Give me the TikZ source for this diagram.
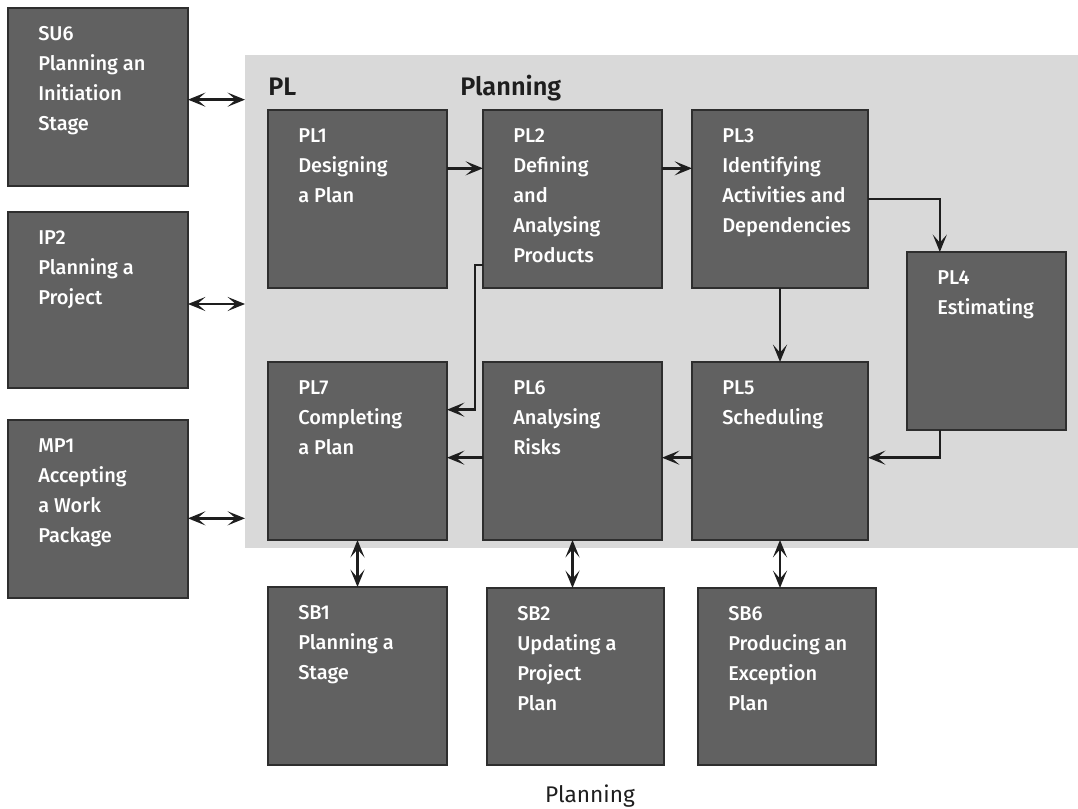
\documentclass[tikz,border=0pt]{standalone}
\usepackage{fontspec}
\setmainfont{Fira Sans}
\newfontfamily\boxfont{Fira Sans}[UprightFont=* Medium, BoldFont=* SemiBold]
\usetikzlibrary{arrows.meta,fit,calc}
\definecolor{boxfill}{HTML}{616161}
\definecolor{boxline}{HTML}{2E2E2E}
\definecolor{areafill}{HTML}{D9D9D9}
\definecolor{ink}{HTML}{1E1E1E}
\tikzset{
  procbox/.style={draw=boxline, line width=1.3pt, fill=boxfill, inner sep=0pt, outer sep=0pt},
  area/.style={fill=areafill, draw=none, inner sep=0pt, outer sep=0pt},
  boxtext/.style={anchor=north west, align=left, text=white, inner sep=0pt,
    font=\boxfont\fontsize{15}{22.5}\selectfont},
  head/.style={anchor=base west, inner sep=0pt, text=ink, font=\boxfont\fontsize{19}{20}\selectfont\bfseries},
  caption/.style={anchor=base, inner sep=0pt, text=ink, font=\fontsize{17}{20}\selectfont},
  flow/.style={arrows={-Stealth[length=13pt,width=10.5pt,inset=6pt]}, line width=2pt, draw=ink},
  both/.style={arrows={Stealth[length=13pt,width=10.5pt,inset=6pt]-Stealth[length=13pt,width=10.5pt,inset=6pt]},
    line width=2pt, draw=ink},
}
% \pbox{name}{left}{top}{right}{bottom}{text}
\newcommand\pbox[6]{%
  \node[procbox, fit={(#2,#3) (#4,#5)}] (#1) {};
  \node[boxtext] (#1-t) at ([shift={(30,18)}]#2,#3) {#6};
}
\begin{document}
\begin{tikzpicture}[x=0.75pt,y=-0.75pt]
\useasboundingbox (0,0) rectangle (1078,809);

% planning area
\node[area, fit={(245,55) (1078,548)}] (pl) {};
\node[head] (plcode) at (268,96) {PL};
\node[head] (pltitle) at (460,96) {Planning};

% neighbouring processes
\pbox{su6}{8}{8}{188}{186}{SU6\\Planning an\\Initiation\\Stage}
\pbox{ip2}{8}{212}{188}{388}{IP2\\Planning a\\Project}
\pbox{mp1}{8}{420}{188}{598}{MP1\\Accepting\\a Work\\Package}

% planning sub-processes
\pbox{pl1}{268}{110}{447}{288}{PL1\\Designing\\a Plan}
\pbox{pl2}{483}{110}{662}{288}{PL2\\Defining\\and\\Analysing\\Products}
\pbox{pl3}{692}{110}{868}{288}{PL3\\Identifying\\Activities and\\Dependencies}
\pbox{pl4}{907}{252}{1066}{430}{PL4\\Estimating}
\pbox{pl7}{268}{362}{447}{540}{PL7\\Completing\\a Plan}
\pbox{pl6}{483}{362}{662}{540}{PL6\\Analysing\\Risks}
\pbox{pl5}{692}{362}{868}{540}{PL5\\Scheduling}

% stage-boundary processes
\pbox{sb1}{268}{587}{447}{765}{SB1\\Planning a\\Stage}
\pbox{sb2}{487}{588}{664}{765}{SB2\\Updating a\\Project\\Plan}
\pbox{sb6}{698}{588}{876}{765}{SB6\\Producing an\\Exception\\Plan}

\node[caption] (cap) at (590,802) {Planning};

% links to the planning area
\draw[both] ([yshift=-2pt]su6.east) -- ([yshift=-2pt]su6.east -| pl.west);
\draw[both] ([yshift=-3pt]ip2.east) -- ([yshift=-3pt]ip2.east -| pl.west);
\draw[both] ([yshift=-7pt]mp1.east) -- ([yshift=-7pt]mp1.east -| pl.west);

% flow between sub-processes
\draw[flow] ([yshift=23pt]pl1.east) -- ([yshift=23pt]pl2.west);
\draw[flow] ([yshift=23pt]pl2.east) -- ([yshift=23pt]pl3.west);
\draw[flow] (pl3.east) -| ([xshift=-35pt]pl4.north);
\draw[flow] (pl3.south) -- (pl3.south |- pl5.north);
\draw[flow] ([xshift=-35pt]pl4.south) |- ([yshift=-5pt]pl5.east);
\draw[flow] ([yshift=-5pt]pl5.west) -- ([yshift=-5pt]pl6.east);
\draw[flow] ([yshift=-5pt]pl6.west) -- ([yshift=-5pt]pl7.east);
\draw[flow] ([yshift=-49.5pt]pl2.west) -- ++(-8,0) |- ([yshift=31pt]pl7.east);

% links to stage-boundary processes
\draw[both] (pl7.south) -- (pl7.south |- sb1.north);
\draw[both] (pl6.south) -- (pl6.south |- sb2.north);
\draw[both] (pl5.south) -- (pl5.south |- sb6.north);
\end{tikzpicture}
\end{document}
